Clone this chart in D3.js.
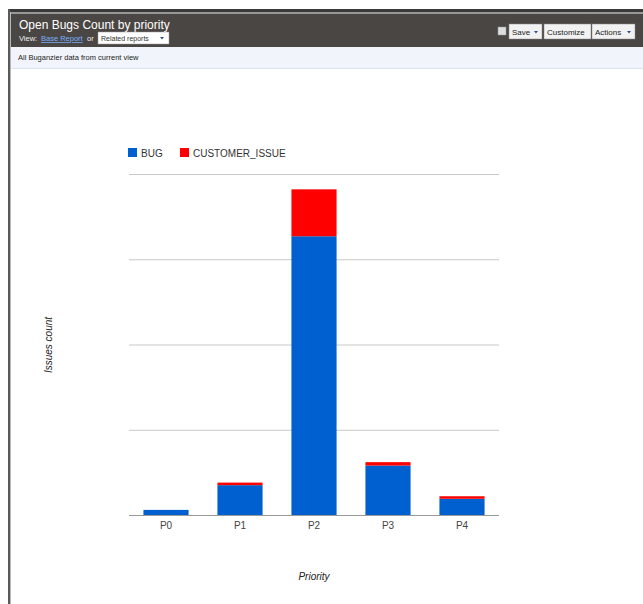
<!DOCTYPE html>
<html>
<head>
<meta charset="utf-8">
<script src="https://cdn.jsdelivr.net/npm/d3@7"></script>
<style>
  body { margin: 0; background: #fff; }
  svg text { font-family: Arial, "Liberation Sans", sans-serif; }
</style>
</head>
<body>
<script>
// chart data
var categories = ["P0", "P1", "P2", "P3", "P4"];
var seriesNames = ["BUG", "CUSTOMER_ISSUE"];
var bugValues = [6, 35, 327, 58, 19];
var customerValues = [0, 3, 55, 4, 3];
var gridTicks = [0, 100, 200, 300, 400];
var seriesColors = ["#0060d0", "#ff0000"];

var W = 643, H = 604;

var svg = d3.select("body").append("svg")
    .attr("width", W)
    .attr("height", H);

// page frame: top and left border
svg.append("rect").attr("x", 8).attr("y", 9).attr("width", W - 8).attr("height", 3).attr("fill", "#3a3a3a");
svg.append("rect").attr("x", 8).attr("y", 9).attr("width", 2).attr("height", H - 9).attr("fill", "#5a5a5a");
svg.append("rect").attr("x", 10).attr("y", 12).attr("width", 1).attr("height", H - 12).attr("fill", "#b8b8b8");

// header band
var header = svg.append("g");
header.append("rect").attr("x", 11).attr("y", 12).attr("width", W - 11).attr("height", 2).attr("fill", "#9a9896");
header.append("rect").attr("x", 11).attr("y", 14).attr("width", W - 11).attr("height", 33).attr("fill", "#4a4644");
header.append("text").attr("x", 19).attr("y", 29)
    .attr("fill", "#fff").attr("font-size", "12px")
    .text("Open Bugs Count by priority");
header.append("text").attr("x", 19).attr("y", 41)
    .attr("fill", "#eee").attr("font-size", "7.5px")
    .text("View:");
header.append("text").attr("x", 41).attr("y", 41)
    .attr("fill", "#7ab0ff").attr("font-size", "7.5px").attr("text-decoration", "underline")
    .text("Base Report");
header.append("text").attr("x", 87).attr("y", 41)
    .attr("fill", "#eee").attr("font-size", "7.5px")
    .text("or");
header.append("rect").attr("x", 98).attr("y", 32).attr("width", 71).attr("height", 12)
    .attr("fill", "#fff").attr("stroke", "#999").attr("stroke-width", 0.5);
header.append("text").attr("x", 101).attr("y", 41)
    .attr("fill", "#333").attr("font-size", "7px")
    .text("Related reports");
header.append("path").attr("d", "M160,37 l4,0 l-2,2.5 z").attr("fill", "#2a4a9a");

// right-hand buttons
header.append("rect").attr("x", 498).attr("y", 27).attr("width", 8).attr("height", 8)
    .attr("fill", "#ddd").attr("stroke", "#999").attr("stroke-width", 0.5);
var buttons = [
  {x: 509, w: 33, label: "Save", arrow: true},
  {x: 544, w: 47, label: "Customize", arrow: false},
  {x: 592, w: 43, label: "Actions", arrow: true}
];
buttons.forEach(function(b) {
  header.append("rect").attr("x", b.x).attr("y", 24).attr("width", b.w).attr("height", 15)
      .attr("fill", "#f2f2f2").attr("stroke", "#888").attr("stroke-width", 0.5);
  header.append("text").attr("x", b.x + 3).attr("y", 34.5)
      .attr("fill", "#222").attr("font-size", "8px").text(b.label);
  if (b.arrow) {
    header.append("path").attr("d", "M" + (b.x + b.w - 8) + ",31 l4,0 l-2,2.5 z").attr("fill", "#2a4a9a");
  }
});

// info bar
svg.append("rect").attr("x", 11).attr("y", 47).attr("width", W - 11).attr("height", 21).attr("fill", "#f1f5fb");
svg.append("rect").attr("x", 11).attr("y", 68).attr("width", W - 11).attr("height", 1).attr("fill", "#dde3ea");
svg.append("text").attr("x", 18).attr("y", 60)
    .attr("fill", "#222").attr("font-size", "7.5px")
    .text("All Buganzier data from current view");

// chart area
var margin = {left: 129, top: 174, right: W - 499, bottom: H - 515};
var width = W - margin.left - margin.right,
    height = H - margin.top - margin.bottom;

var g = svg.append("g")
    .attr("transform", "translate(" + margin.left + "," + margin.top + ")");

var xScale = d3.scaleBand().domain(categories).range([0, width]).paddingInner(0.39).paddingOuter(0.195);
var yScale = d3.scaleLinear().domain([0, 400]).range([height, 0]);

// gridlines
g.selectAll(".grid")
    .data(gridTicks.slice(1))
  .enter().append("line")
    .attr("class", "grid")
    .attr("x1", 0).attr("x2", width)
    .attr("y1", function(d) { return yScale(d) + 0.5; })
    .attr("y2", function(d) { return yScale(d) + 0.5; })
    .attr("stroke", "#c8c8c8").attr("stroke-width", 1);

// stacked data
var rows = categories.map(function(c, i) {
  return {key: c, BUG: bugValues[i], CUSTOMER_ISSUE: customerValues[i]};
});
var stacked = d3.stack().keys(seriesNames)(rows);

g.selectAll(".series")
    .data(stacked)
  .enter().append("g")
    .attr("class", "series")
    .attr("fill", function(d, i) { return seriesColors[i]; })
  .selectAll("rect")
    .data(function(d) { return d; })
  .enter().append("rect")
    .attr("x", function(d) { return xScale(d.data.key); })
    .attr("width", xScale.bandwidth())
    .attr("y", function(d) { return yScale(d[1]); })
    .attr("height", function(d) { return yScale(d[0]) - yScale(d[1]); });

// baseline
g.append("line")
    .attr("x1", 0).attr("x2", width)
    .attr("y1", height + 0.5).attr("y2", height + 0.5)
    .attr("stroke", "#999").attr("stroke-width", 1);

// x axis labels
var xAxis = d3.axisBottom(xScale).tickSize(0).tickPadding(7);
var xg = g.append("g")
    .attr("transform", "translate(0," + height + ")")
    .call(xAxis);
xg.select(".domain").remove();
xg.selectAll("text")
    .attr("font-family", "Arial, 'Liberation Sans', sans-serif")
    .attr("font-size", "10px")
    .attr("fill", "#444");

// axis titles
svg.append("text")
    .attr("x", 314).attr("y", 580)
    .attr("text-anchor", "middle")
    .attr("font-size", "10px").attr("font-style", "italic").attr("fill", "#222")
    .text("Priority");
svg.append("text")
    .attr("transform", "translate(52,345) rotate(-90)")
    .attr("text-anchor", "middle")
    .attr("font-size", "10px").attr("font-style", "italic").attr("fill", "#222")
    .text("Issues count");

// legend
var legend = svg.append("g");
var legendX = [128, 180];
seriesNames.forEach(function(name, i) {
  legend.append("rect")
      .attr("x", legendX[i]).attr("y", 148)
      .attr("width", 9).attr("height", 9)
      .attr("fill", seriesColors[i]);
  legend.append("text")
      .attr("x", legendX[i] + 13).attr("y", 156.5)
      .attr("font-size", "10px").attr("fill", "#333")
      .text(name);
});
</script>
</body>
</html>
